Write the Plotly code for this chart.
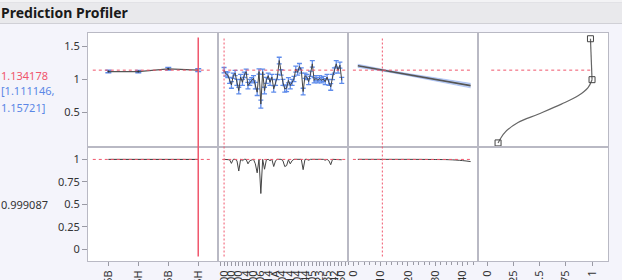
import plotly.graph_objects as go
from plotly.subplots import make_subplots

# ---------------- data ----------------
cats1 = ["HA5B", "HA5H", "KR5B", "KR5H"]
r1 = [1.113, 1.112, 1.155, 1.134]
err1 = [0.018, 0.018, 0.02, 0.02]
d1 = [0.9995, 0.9995, 1.0, 0.9991]
current1 = "KR5H"

cats2 = [
    "K-100", "K-103", "K-107", "K-110",
    "K-200", "K-204", "K-206", "K-209",
    "L-300", "L-302", "L-305", "L-308",
    "L-314", "L-316", "L-318", "L-321",
    "M-400", "M-402", "M-403", "M-405",
    "M-506", "M-507", "M-509", "M-511",
    "N-614", "N-615", "N-617", "N-618",
    "N-71A", "N-71B", "N-72A", "N-72B",
    "P-804", "P-806", "P-807", "P-809",
    "P-814", "P-815", "P-817", "P-819",
    "Q-904", "Q-905", "Q-907", "Q-908",
    "Q-944", "Q-946", "Q-947", "Q-949",
    "R-105", "R-106", "R-108", "R-109",
    "R-123", "R-124", "R-126", "R-127",
    "S-135", "S-136", "S-137", "S-139",
    "S-142", "S-143", "S-145", "S-147",
    "T-150",
]
r2 = [1.134, 1.078, 1.063, 0.98, 0.91, 1.05, 1.09, 0.95, 0.825, 1.03,
      0.95, 1.063, 1.11, 0.90, 0.95, 0.98, 1.01, 0.90, 0.80, 1.113,
      0.62, 1.11, 0.825, 0.98, 1.05, 0.95, 1.03, 0.85, 0.95, 1.03,
      1.28, 1.10, 0.95, 0.85, 0.86, 0.98, 0.90, 0.95, 1.00, 1.15,
      1.10, 1.19, 1.13, 0.81, 1.05, 1.03, 0.96, 1.08, 1.23, 0.98,
      1.01, 0.98, 1.01, 0.98, 1.00, 0.96, 1.03, 0.95, 0.88, 1.03,
      1.13, 1.23, 1.13, 1.21, 0.98]
err2 = [0.04, 0.035, 0.04, 0.045, 0.05, 0.04, 0.04, 0.045, 0.05, 0.04,
        0.045, 0.04, 0.04, 0.05, 0.045, 0.04, 0.04, 0.05, 0.05, 0.04,
        0.06, 0.04, 0.05, 0.045, 0.04, 0.045, 0.04, 0.05, 0.045, 0.04,
        0.05, 0.04, 0.045, 0.05, 0.05, 0.04, 0.05, 0.045, 0.04, 0.045,
        0.04, 0.045, 0.04, 0.05, 0.04, 0.04, 0.045, 0.04, 0.05, 0.04,
        0.04, 0.04, 0.04, 0.04, 0.04, 0.045, 0.04, 0.045, 0.05, 0.04,
        0.04, 0.05, 0.04, 0.045, 0.045]
d2 = [1.0, 1.0, 1.0, 0.995, 0.955, 1.0, 1.0, 0.985, 0.87, 1.0,
      0.985, 1.0, 1.0, 0.95, 0.985, 0.995, 1.0, 0.95, 0.85, 1.0,
      0.62, 1.0, 0.89, 0.995, 1.0, 0.985, 1.0, 0.92, 0.985, 1.0,
      1.0, 1.0, 0.985, 0.92, 0.93, 0.995, 0.95, 0.985, 1.0, 1.0,
      1.0, 1.0, 1.0, 0.885, 1.0, 1.0, 0.99, 1.0, 1.0, 0.995,
      1.0, 0.995, 1.0, 0.995, 1.0, 0.99, 1.0, 0.985, 0.94, 1.0,
      1.0, 1.0, 1.0, 1.0, 0.995]
current2 = "K-100"

x3 = [1.6, 10.6, 20, 30, 43]
r3 = [1.200, 1.135, 1.067, 0.994, 0.900]
lo3 = [1.176, 1.121, 1.051, 0.972, 0.866]
hi3 = [1.224, 1.149, 1.083, 1.016, 0.934]
xd3 = [1.6, 10.6, 20, 30, 35, 40, 43]
d3 = [1.0, 0.9995, 0.9995, 0.998, 0.996, 0.986, 0.975]
current3 = 10.6

# desirability function (x = desirability, y = response)
dcurve = [0.105, 0.169, 0.295, 0.486, 0.708, 0.867, 0.962, 1.0]
rcurve = [0.032, 0.189, 0.34, 0.467, 0.62, 0.745, 0.87, 0.99]
dtop = [1.0, 0.985]
rtop = [0.99, 1.61]
dctrl = [0.105, 1.0, 0.985]
rctrl = [0.032, 0.99, 1.61]

pred = 1.134178
ci_lo, ci_hi = 1.111146, 1.15721
desir = 0.999087

# ---------------- figure ----------------
W, H = 622, 280
ML, MR, MT, MB = 88, 14, 33, 19
PW, PH = W - ML - MR, H - MT - MB


def px2x(px):
    return (px - ML) / PW


def py2y(py):
    return (H - MB - py) / PH


FONT = "Noto Sans"
RED = "#f0566c"
BLUE = "#5b87e6"
LINEC = "#b9b9c4"
TXT = "#333333"
DASH = "3px,3px"

fig = make_subplots(rows=2, cols=4, horizontal_spacing=0, vertical_spacing=0)

i1 = list(range(len(cats1)))
i2 = list(range(len(cats2)))

# panel 1
fig.add_trace(go.Scatter(x=i1, y=r1, mode="lines+markers",
                         line=dict(color="#555555", width=1.2),
                         marker=dict(size=2, color="#333333"),
                         error_y=dict(type="data", array=err1, color=BLUE,
                                      thickness=1.5, width=3)),
              row=1, col=1)
fig.add_trace(go.Scatter(x=i1, y=d1, mode="lines",
                         line=dict(color="#333333", width=1)), row=2, col=1)

# panel 2
fig.add_trace(go.Scatter(x=i2, y=r2, mode="lines",
                         line=dict(color="#444444", width=1),
                         error_y=dict(type="data", array=err2, color="#5f8ceb",
                                      thickness=1.3, width=2.5)),
              row=1, col=2)
fig.add_trace(go.Scatter(x=i2, y=d2, mode="lines",
                         line=dict(color="#444444", width=1)), row=2, col=2)

# panel 3
fig.add_trace(go.Scatter(x=x3, y=hi3, mode="lines", line=dict(width=0.6, color="rgba(110,150,235,0.7)")),
              row=1, col=3)
fig.add_trace(go.Scatter(x=x3, y=lo3, mode="lines", fill="tonexty",
                         fillcolor="rgba(110,150,235,0.4)",
                         line=dict(width=0.6, color="rgba(110,150,235,0.7)")), row=1, col=3)
fig.add_trace(go.Scatter(x=x3, y=r3, mode="lines",
                         line=dict(color="#555555", width=1.6)), row=1, col=3)
fig.add_trace(go.Scatter(x=xd3, y=d3, mode="lines", line_shape="spline",
                         line=dict(color="#444444", width=1)), row=2, col=3)

# panel 4
fig.add_trace(go.Scatter(x=dcurve, y=rcurve, mode="lines", line_shape="spline",
                         line=dict(color="#666666", width=1.2)), row=1, col=4)
fig.add_trace(go.Scatter(x=dtop, y=rtop, mode="lines",
                         line=dict(color="#666666", width=1.2)), row=1, col=4)
fig.add_trace(go.Scatter(x=dctrl, y=rctrl, mode="markers",
                         marker=dict(symbol="square-open", size=6,
                                     color="#444444", line=dict(width=1))),
              row=1, col=4)
# empty cell (keeps the frame and the desirability axis)
fig.add_trace(go.Scatter(x=[None], y=[None], mode="markers", hoverinfo="skip"),
              row=2, col=4)

# ---------------- axes ----------------
YR1 = [-0.03, 1.697]
YR2 = [-0.13, 1.137]
XR1 = [-0.68, 3.66]
XR2 = [-3.3, 67.4]
XR3 = [-2.0, 45.7]
XR4 = [-0.086, 1.152]

common = dict(showline=True, mirror=True, linecolor=LINEC, linewidth=1,
              showgrid=False, zeroline=False, automargin=False,
              tickfont=dict(family=FONT, size=11, color=TXT))

for c in range(1, 5):
    for r in (1, 2):
        fig.update_yaxes(common, range=YR1 if r == 1 else YR2,
                         fixedrange=True, row=r, col=c)
        fig.update_xaxes(common, row=r, col=c)

fig.update_yaxes(tickvals=[0.5, 1, 1.5], ticktext=["0.5", "1", "1.5"],
                 ticks="outside", ticklen=5, tickcolor="#9a9aa4", row=1, col=1)
fig.update_yaxes(tickvals=[0, 0.25, 0.5, 0.75, 1],
                 ticktext=["0", "0.25", "0.5", "0.75", "1"],
                 ticks="outside", ticklen=5, tickcolor="#9a9aa4", row=2, col=1)
for c in (2, 3, 4):
    for r in (1, 2):
        fig.update_yaxes(showticklabels=False, ticks="", row=r, col=c)

xranges = {1: XR1, 2: XR2, 3: XR3, 4: XR4}
for c in range(1, 5):
    fig.update_xaxes(range=xranges[c], showticklabels=False, ticks="", row=1, col=c)

fig.update_xaxes(range=XR1, tickvals=i1, ticktext=cats1, tickangle=-90,
                 ticks="outside", ticklen=4, tickcolor="#9a9aa4", row=2, col=1)
fig.update_xaxes(range=XR2, tickvals=i2[::4], ticktext=cats2[::4], tickangle=-90,
                 ticks="outside", ticklen=4, tickcolor="#9a9aa4",
                 minor=dict(dtick=2, tick0=0, ticks="outside", ticklen=4,
                            tickcolor="#9a9aa4", showgrid=False),
                 row=2, col=2)
fig.update_xaxes(range=XR3, tickvals=[0, 10, 20, 30, 40],
                 ticktext=["0", "10", "20", "30", "40"], tickangle=-90,
                 ticks="outside", ticklen=4, tickcolor="#9a9aa4",
                 minor=dict(dtick=2, tick0=0, ticks="outside", ticklen=3,
                            tickcolor="#9a9aa4", showgrid=False),
                 row=2, col=3)
fig.update_xaxes(range=XR4, tickvals=[0, 0.25, 0.5, 0.75, 1],
                 ticktext=["0", "0.25", "0.5", "0.75", "1"], tickangle=-90,
                 ticks="outside", ticklen=4, tickcolor="#9a9aa4", row=2, col=4)

# ---------------- reference lines ----------------
shapes = []
cur1 = cats1.index(current1)
cur2 = cats2.index(current2)
y_top, y_bot = py2y(37.5), py2y(256.5)
shapes.append(dict(type="line", xref="x", yref="paper", x0=cur1, x1=cur1,
                   y0=y_bot, y1=y_top, line=dict(color=RED, width=1.5)))
shapes.append(dict(type="line", xref="x2", yref="paper", x0=cur2, x1=cur2,
                   y0=y_bot, y1=y_top, line=dict(color=RED, width=1, dash="2px,2px")))
shapes.append(dict(type="line", xref="x3", yref="paper", x0=current3, x1=current3,
                   y0=y_bot, y1=y_top, line=dict(color=RED, width=1, dash="2px,2px")))

hspans = {1: (-0.52, 3.47), 2: (-1.0, 66.3), 3: (-0.2, 43.1)}
for c, (a, b) in hspans.items():
    xr = "x" if c == 1 else f"x{c}"
    shapes.append(dict(type="line", xref=xr, yref=f"y{'' if c == 1 else c}",
                       x0=a, x1=b, y0=pred, y1=pred,
                       line=dict(color=RED, width=1, dash=DASH)))
    shapes.append(dict(type="line", xref=f"x{c + 4}", yref=f"y{c + 4}",
                       x0=a, x1=b, y0=desir, y1=desir,
                       line=dict(color=RED, width=1, dash=DASH)))
shapes.append(dict(type="line", xref="x4", yref="y4", x0=0.04, x1=0.995,
                   y0=pred, y1=pred, line=dict(color=RED, width=1, dash=DASH)))

# title bar
shapes.append(dict(type="rect", xref="paper", yref="paper", layer="below",
                   x0=px2x(-2), x1=px2x(W + 2), y0=py2y(23.5), y1=py2y(2.5),
                   fillcolor="#e9e9ec", line=dict(color="#d0d0d6", width=1)))
shapes.append(dict(type="rect", xref="paper", yref="paper", layer="below",
                   x0=px2x(-2), x1=px2x(W + 2), y0=py2y(2.5), y1=py2y(-2),
                   fillcolor="#f3f3f5", line=dict(width=0)))

annotations = [
    dict(text="<b>Prediction Profiler</b>", x=px2x(-1), y=py2y(13),
         xanchor="left", yanchor="middle", font=dict(family=FONT, size=14, color="#1a1a1a")),
    dict(text=f"{pred:.6f}", x=px2x(-1), y=py2y(75), xanchor="left", yanchor="middle",
         font=dict(family=FONT, size=11, color=RED)),
    dict(text=f"[{ci_lo:.6f},", x=px2x(-1), y=py2y(90), xanchor="left", yanchor="middle",
         font=dict(family=FONT, size=11, color=BLUE)),
    dict(text=f"{ci_hi:.5f}]", x=px2x(-1), y=py2y(107), xanchor="left", yanchor="middle",
         font=dict(family=FONT, size=11, color=BLUE)),
    dict(text=f"{desir:.6f}", x=px2x(-1), y=py2y(204), xanchor="left", yanchor="middle",
         font=dict(family=FONT, size=11, color=TXT)),
]
for a in annotations:
    a.update(xref="paper", yref="paper", showarrow=False)

fig.update_layout(
    width=W, height=H,
    margin=dict(l=ML, r=MR, t=MT, b=MB, pad=0),
    paper_bgcolor="#f4f4fb", plot_bgcolor="#ffffff",
    showlegend=False, shapes=shapes, annotations=annotations,
    font=dict(family=FONT, size=11, color=TXT),
)

fig.write_html("out.html", config={"displayModeBar": False})
